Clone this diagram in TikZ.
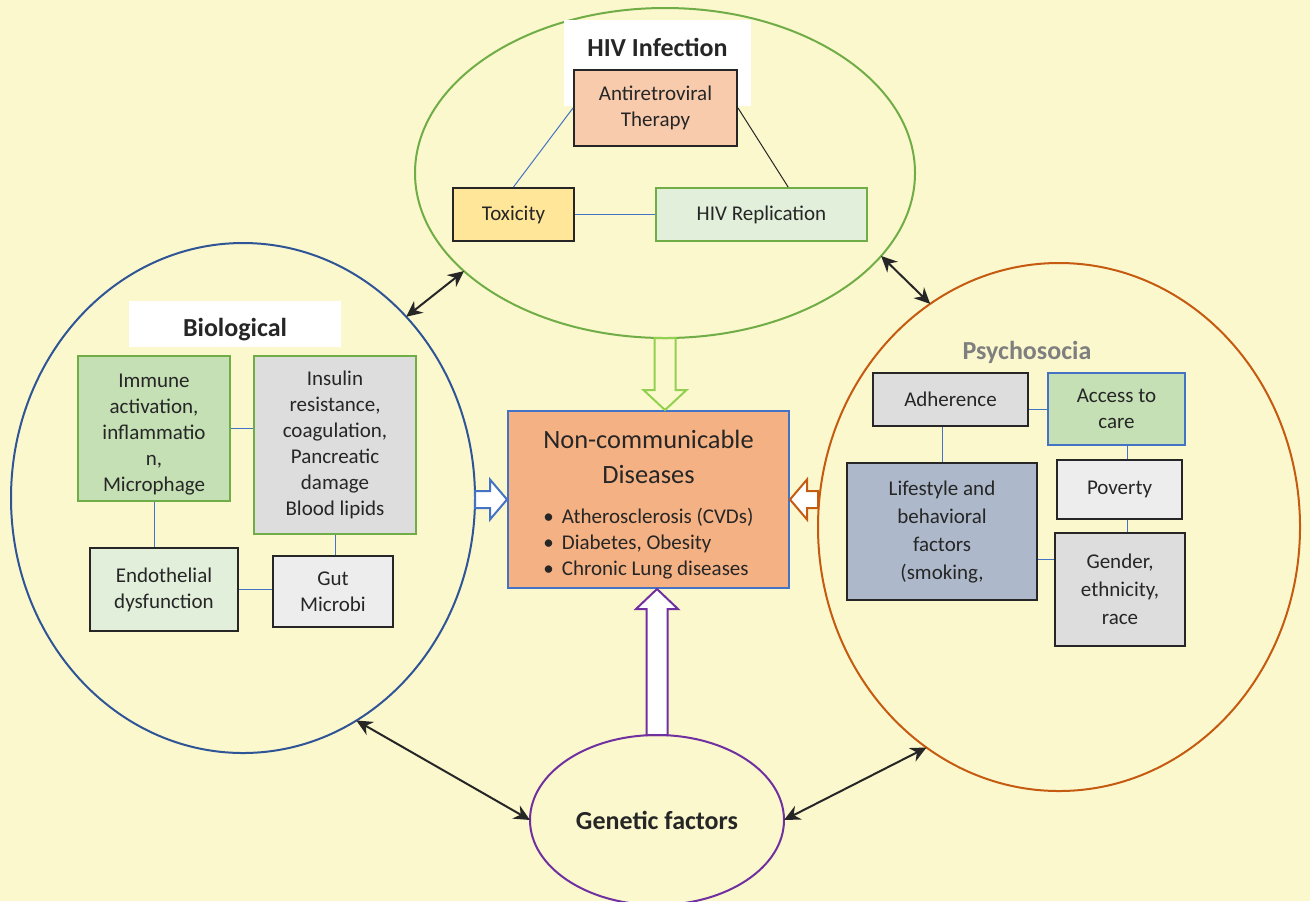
\documentclass[tikz,border=0pt]{standalone}
\usepackage{fontspec}
\setmainfont{Carlito}
\usetikzlibrary{shapes.geometric, arrows.meta, calc}

\definecolor{bgy}{HTML}{FBF8CD}
\definecolor{dline}{HTML}{262626}
\definecolor{hgreen}{HTML}{70AD47}
\definecolor{bblue}{HTML}{2F5597}
\definecolor{porange}{HTML}{C55A11}
\definecolor{gpurple}{HTML}{7030A0}
\definecolor{agreen}{HTML}{92D050}
\definecolor{ablue}{HTML}{4472C4}
\definecolor{artf}{HTML}{F8CBAD}
\definecolor{toxf}{HTML}{FFE699}
\definecolor{repf}{HTML}{E2EFDA}
\definecolor{immf}{HTML}{C5E0B4}
\definecolor{mgray}{HTML}{DDDDDD}
\definecolor{lgray}{HTML}{EDEDED}
\definecolor{lifef}{HTML}{ADB9CA}
\definecolor{ncdf}{HTML}{F4B183}
\definecolor{psgray}{HTML}{7F7F7F}

\tikzset{
  every node/.style={font=\fontsize{10.5}{13}\selectfont},
  ttl/.style={font=\fontsize{13}{16}\selectfont\bfseries, text=dline},
  ring/.style={ellipse, draw=#1, line width=1pt, inner sep=0pt, outer sep=0pt},
  bx/.style={rectangle, draw=dline, line width=1pt, align=center, inner sep=0pt, text=dline},
  ln/.style={draw=ablue, line width=0.5pt},
  blk/.style={draw=#1, fill=white, line width=1pt, line join=miter},
  dbl/.style={{Stealth[length=8pt,width=7.5pt]}-{Stealth[length=8pt,width=7.5pt]}, line width=1pt, draw=dline}
}

\begin{document}
\begin{tikzpicture}[x=0.5pt, y=-0.5pt]
        \fill[bgy] (0,0) rectangle (1310,901);
        \useasboundingbox (0,0) rectangle (1310,901);

        \node[ring=hgreen, minimum width=250pt, minimum height=165pt] (hiv) at (665,173) {};
        \node[ring=bblue, minimum width=232pt, minimum height=255pt] (bio) at (243,498) {};
        \node[ring=porange, minimum width=241pt, minimum height=264pt] (psy) at (1059,527) {};
        \node[ring=gpurple, minimum width=127pt, minimum height=85pt, ttl] (genf) at (657,820) {Genetic factors};

        \node[fill=white, minimum width=93.5pt, text height=18pt, text depth=25pt, inner sep=0pt, ttl] (hivt) at (657.5,63) {HIV Infection};
        \node[fill=white, minimum width=106pt, text height=17.5pt, text depth=5.5pt, inner sep=0pt, ttl] (biot) at (235,324) {Biological};
        \node[ttl, text=psgray] (psyt) at (1027,352) {Psychosocia};

        \node[bx, fill=artf, minimum width=81.5pt, minimum height=38pt] (art) at (655.5,108) {Antiretroviral\\Therapy};
        \node[bx, fill=toxf, minimum width=60.5pt, minimum height=26.5pt] (tox) at (513.5,214.5) {Toxicity};
        \node[bx, draw=hgreen, fill=repf, minimum width=105.5pt, minimum height=26.5pt] (rep) at (761.5,214.5) {HIV Replication};

        \node[bx, draw=hgreen, fill=immf, minimum width=76pt, text height=67.5pt, text depth=5pt] (imm) at (154,428.5) {Immune\\activation,\\inflammatio\\n,\\Microphage};
        \node[bx, draw=hgreen, fill=mgray, minimum width=81pt, minimum height=89pt] (ins) at (335,445) {Insulin\\resistance,\\coagulation,\\Pancreatic\\damage\\Blood lipids};
        \node[bx, fill=repf, minimum width=74pt, minimum height=41.5pt] (endo) at (164,589.5) {Endothelial\\dysfunction};
        \node[bx, fill=lgray, minimum width=60pt, minimum height=35.5pt] (gut) at (333,591.5) {Gut\\Microbi};

        \node[bx, fill=mgray, minimum width=77.5pt, minimum height=26.5pt] (adh) at (950.5,399.5) {Adherence};
        \node[bx, draw=ablue, fill=immf, minimum width=68.5pt, minimum height=36pt] (acc) at (1116.5,409) {Access to\\care};
        \node[bx, fill=lifef, minimum width=95pt, minimum height=68.5pt, font=\fontsize{10.5}{14}\selectfont] (life) at (942,531.5) {Lifestyle and\\behavioral\\factors\\(smoking,};
        \node[bx, fill=lgray, minimum width=62.5pt, minimum height=29.5pt] (pov) at (1119.5,489.5) {Poverty};
        \node[bx, fill=mgray, minimum width=65pt, minimum height=56.5pt, font=\fontsize{10.5}{14}\selectfont] (gen) at (1120,589.5) {Gender,\\ethnicity,\\race};

        \node[bx, draw=ablue, fill=ncdf, minimum width=140.5pt, text height=56pt, text depth=32.5pt, font=\fontsize{13.2}{17.5}\selectfont] (ncd) at (648.5,499.5) {Non-communicable\\Diseases\\[2.5pt]{\fontsize{10.5}{13}\selectfont\begin{tabular}[t]{@{}l@{}}\textbullet\hspace{4pt}Atherosclerosis (CVDs)\\\textbullet\hspace{4pt}Diabetes, Obesity\\\textbullet\hspace{4pt}Chronic Lung diseases\end{tabular}}};

        \draw [ln] (art.west)--(tox.north);
        \draw [ln, draw=dline] (art.east)--($(rep.north)!0.25!(rep.north east)$);
        \draw [ln] (tox)--(rep);
        \draw [ln] (imm.east)--(imm.east -| ins.west);
        \draw [ln] (imm.south)--(imm.south |- endo.north);
        \draw [ln] (ins.south)--(ins.south |- gut.north);
        \draw [ln] (endo.east)--(endo.east -| gut.west);
        \draw [ln] (acc.west -| adh.east)--(acc.west);
        \draw [ln] (life.north)--(life.north |- adh.south);
        \draw [ln] ([xshift=4pt]pov.north)--([xshift=4pt]pov.north |- acc.south);
        \draw [ln] ([xshift=4pt]pov.south)--([xshift=4pt]pov.south |- gen.north);
        \draw [ln] ([yshift=-14pt]life.east)--([yshift=-14pt]life.east -| gen.west);

        \coordinate (gt) at (hiv.south |- ncd.north);
        \draw [blk=agreen, fill=none] ([xshift=-5.25pt]hiv.south)--([xshift=-5.25pt,yshift=10pt]gt)--([xshift=-10.75pt,yshift=10pt]gt)--(gt)--([xshift=10.75pt,yshift=10pt]gt)--([xshift=5.25pt,yshift=10pt]gt)--([xshift=5.25pt]hiv.south)--cycle;
        \coordinate (bs) at (bio.east |- ncd.west);
        \draw [blk=ablue] ([yshift=4.25pt]bs)--([xshift=-8.5pt,yshift=4.25pt]ncd.west)--([xshift=-8.5pt,yshift=10pt]ncd.west)--(ncd.west)--([xshift=-8.5pt,yshift=-10pt]ncd.west)--([xshift=-8.5pt,yshift=-4.25pt]ncd.west)--([yshift=-4.25pt]bs)--cycle;
        \coordinate (ps) at (psy.west |- ncd.east);
        \draw [blk=porange] ([yshift=4.25pt]ps)--([xshift=8.5pt,yshift=4.25pt]ncd.east)--([xshift=8.5pt,yshift=10pt]ncd.east)--(ncd.east)--([xshift=8.5pt,yshift=-10pt]ncd.east)--([xshift=8.5pt,yshift=-4.25pt]ncd.east)--([yshift=-4.25pt]ps)--cycle;
        \coordinate (pt) at (genf.north |- ncd.south);
        \draw [blk=gpurple] ([xshift=-5.25pt]genf.north)--([xshift=-5.25pt,yshift=-10pt]pt)--([xshift=-10.5pt,yshift=-10pt]pt)--(pt)--([xshift=10.5pt,yshift=-10pt]pt)--([xshift=5.25pt,yshift=-10pt]pt)--([xshift=5.25pt]genf.north)--cycle;

        \draw [dbl] (bio.48)--(hiv.206);
        \draw [dbl] (hiv.339)--(psy.120);
        \draw [dbl] (bio.297)--(genf.180);
        \draw [dbl] (genf.0)--(psy.239);
    \end{tikzpicture}
\end{document}
